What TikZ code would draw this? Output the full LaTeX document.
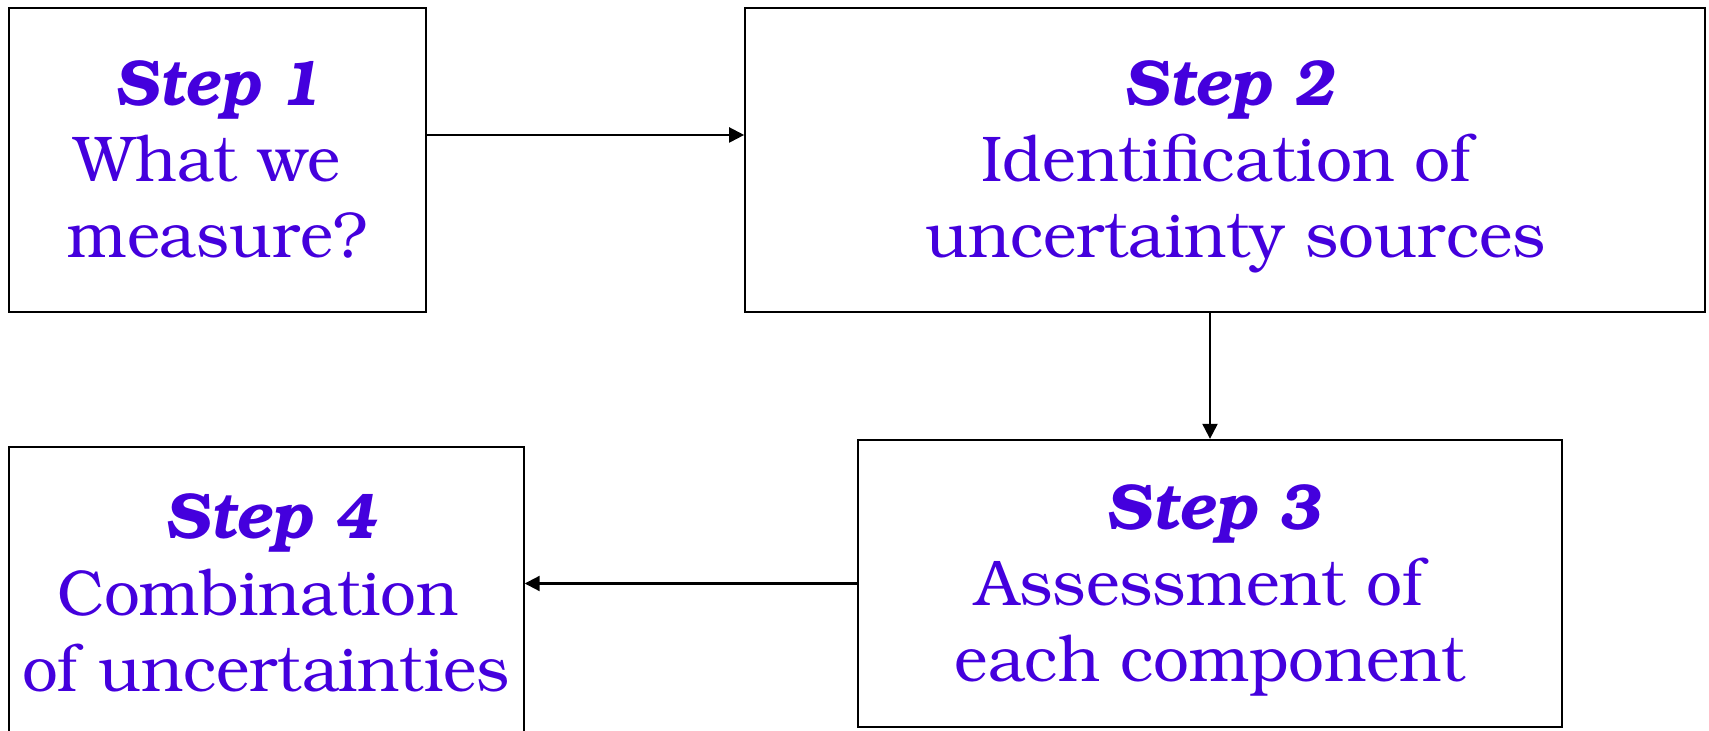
\documentclass[tikz,border=0pt]{standalone}
\usepackage[T1]{fontenc}
\usepackage{bookman}
\usepackage{graphicx}
\usetikzlibrary{arrows.meta}

\definecolor{steptext}{RGB}{68,0,221}

% one line of a box: shifted by #1, stretched to width #2, natural height
\newcommand\boxline[3]{\kern#1\resizebox{#2}{\height}{#3}\kern-#1\relax}
\newcommand\steptitle[1]{{\bfseries\itshape #1}}

\begin{document}
\begin{tikzpicture}[x=0.01cm,y=-0.01cm,
  stepbox/.style={draw=black, line width=0.6pt, rectangle, inner sep=0pt,
    align=center, text=steptext, font=\fontsize{18.4}{21.62}\selectfont,
    text height=1.96cm, text depth=0cm},
  flow/.style={draw=black, line width=0.6pt,
    -{Triangle[length=0.15cm,width=0.15cm]}}]
\useasboundingbox (0,0) rectangle (1709,731);
\clip (0,0) rectangle (1709,731);

\node[stepbox, minimum width=4.17cm, minimum height=3.04cm] (s1) at (217.5,159.7)
  {\boxline{0.01cm}{2.07cm}{\steptitle{Step 1}}\\
   \boxline{-0.10cm}{2.65cm}{What we}\\
   \boxline{0cm}{2.99cm}{measure?}};

\node[stepbox, minimum width=9.595cm, minimum height=3.04cm] (s2) at (1225.25,159.7)
  {\boxline{0.04cm}{2.12cm}{\steptitle{Step 2}}\\
   \boxline{0.01cm}{4.90cm}{Identification of}\\
   \boxline{0.10cm}{6.20cm}{uncertainty sources}};

\node[stepbox, minimum width=7.04cm, minimum height=2.87cm] (s3) at (1210,583.5)
  {\boxline{0.035cm}{2.15cm}{\steptitle{Step 3}}\\
   \boxline{-0.105cm}{4.47cm}{Assessment of}\\
   \boxline{0.005cm}{5.11cm}{each component}};

\node[stepbox, minimum width=5.145cm, minimum height=2.91cm] (s4) at (266.25,593)
  {\boxline{0.04cm}{2.12cm}{\steptitle{Step 4}}\\
   \boxline{-0.085cm}{4.01cm}{Combination}\\
   \boxline{-0.005cm}{4.87cm}{of uncertainties}};

\draw[flow] ([yshift=0.247cm]s1.east) -- ([yshift=0.247cm]s2.west);
\draw[flow] (s2.south -| s3.north) -- (s3.north);
\draw[flow] (s3.west) -- (s3.west -| s4.east);
\end{tikzpicture}
\end{document}
